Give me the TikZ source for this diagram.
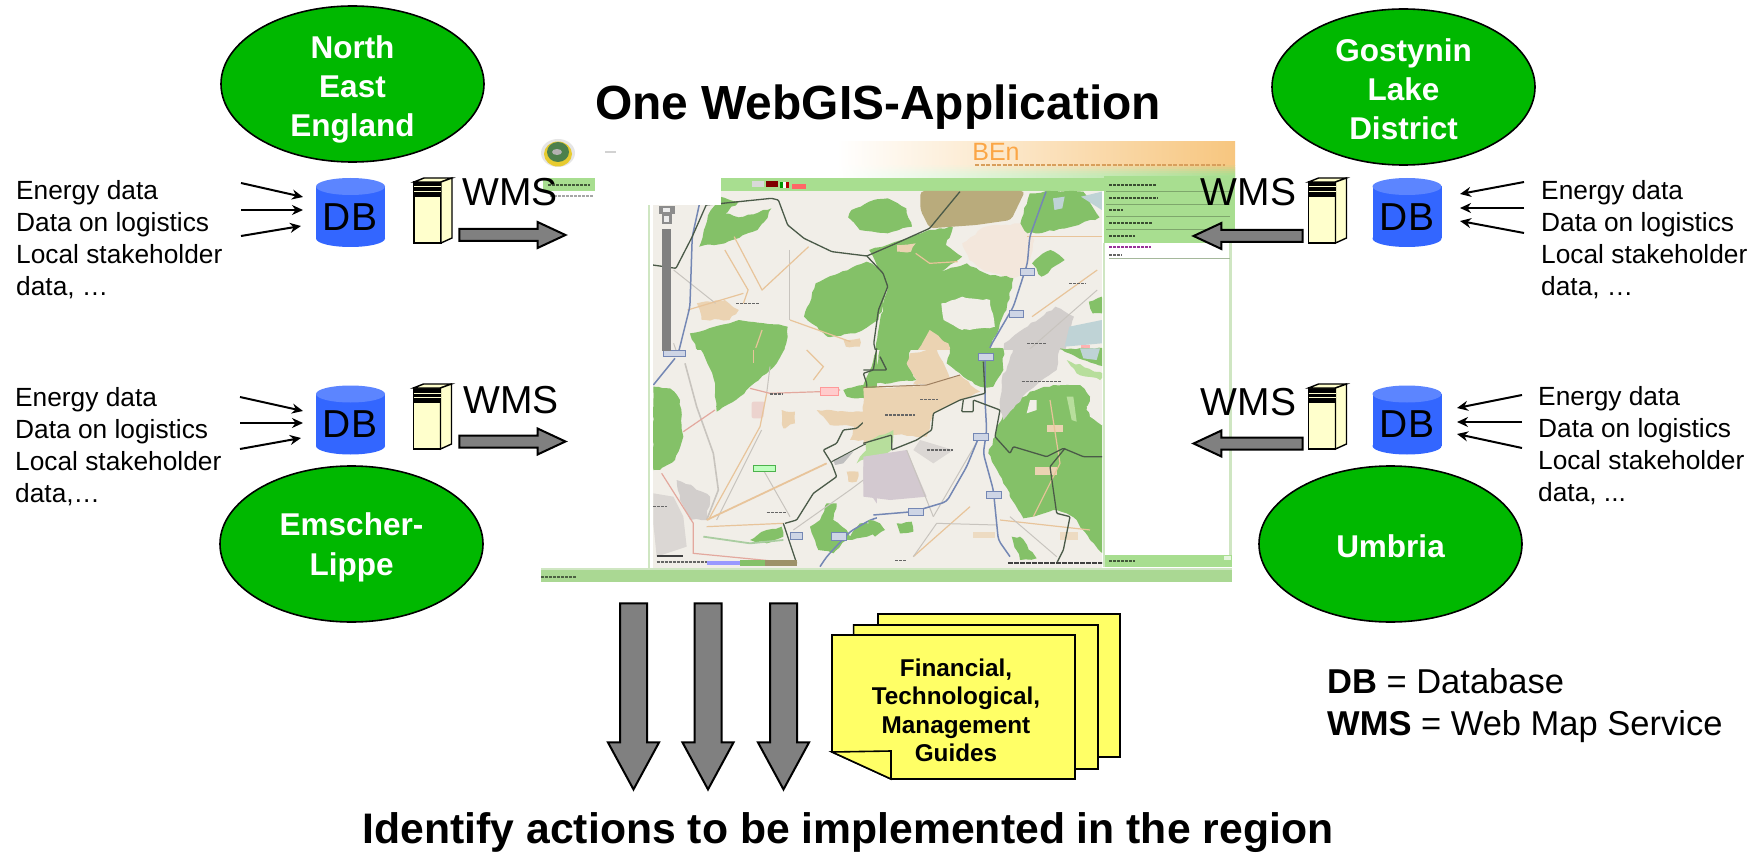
\documentclass[tikz,border=0pt]{standalone}
\usepackage{fontspec}
\setmainfont{Liberation Sans}
\usetikzlibrary{shapes.geometric,shapes.arrows,arrows.meta,decorations.pathmorphing}
\definecolor{regiongreen}{HTML}{00B800}
\definecolor{dbblue}{HTML}{3366FF}
\definecolor{dbtop}{HTML}{5C85FF}
\definecolor{srv}{HTML}{FFFFCC}
\definecolor{arrowgray}{HTML}{808080}
\definecolor{noteyellow}{HTML}{FFFF66}
\definecolor{barg}{HTML}{A8DE90}
\definecolor{barg2}{HTML}{AAD893}
\definecolor{edgeg}{HTML}{CFE6C2}
\definecolor{hdrorange}{HTML}{F7C67F}
\definecolor{mapbase}{HTML}{F1EEE8}
\definecolor{forest}{HTML}{84C168}
\definecolor{lightforest}{HTML}{B7DE9C}
\definecolor{tan}{HTML}{EBD3B2}
\definecolor{olive}{HTML}{B9AB7C}
\definecolor{pale}{HTML}{F3E7DC}
\definecolor{city}{HTML}{D2CECC}
\definecolor{plant}{HTML}{D3C9D0}
\definecolor{border}{HTML}{4A5A48}
\definecolor{roadb}{HTML}{7487B4}
\definecolor{roado}{HTML}{E8C49A}
\definecolor{roadr}{HTML}{E3A89E}
\definecolor{mapthin}{HTML}{C8C4BE}
\definecolor{water}{HTML}{BFD3D6}
\definecolor{pinkish}{HTML}{ECD3CE}
\tikzset{
  region/.style={ellipse,draw=black,line width=1.6pt,fill=regiongreen,
    minimum width=263pt,minimum height=156pt,inner sep=0pt},
  regiontext/.style={text=white,inner sep=0pt,align=center,
    font=\fontsize{31.5}{38.8}\selectfont\bfseries},
  dblabel/.style={font=\fontsize{39}{39}\selectfont,inner sep=0pt},
  wms/.style={font=\fontsize{39}{39}\selectfont,inner sep=0pt},
  datatext/.style={align=left,inner sep=0pt,font=\fontsize{26.3}{32}\selectfont},
  thinarrow/.style={line width=2pt,-{Stealth[length=11pt,width=10pt]}},
  blockarrow/.style={single arrow,draw=black,fill=arrowgray,line width=2pt,inner sep=0pt,outer sep=0pt,
    minimum height=106pt,minimum width=24pt,single arrow head extend=7pt,
    single arrow tip angle=50,single arrow head indent=0pt},
  downarrow/.style={single arrow,rotate=-90,draw=black,fill=arrowgray,line width=2pt,inner sep=0pt,outer sep=0pt,
    minimum height=186pt,minimum width=49pt,single arrow head extend=12pt,
    single arrow tip angle=57,single arrow head indent=0pt},
  note/.style={draw=black,line width=1.6pt,fill=noteyellow},
  rough/.style={decorate,decoration={random steps,segment length=5pt,amplitude=1.1pt}},
  forestp/.style={fill=forest,rough},
  lforestp/.style={fill=lightforest,rough},
  tanp/.style={fill=tan,rough},
  cityp/.style={fill=city,rough},
  brd/.style={draw=border,line width=1.3pt,rounded corners=1pt},
  roadB/.style={draw=roadb,line width=1.5pt,rounded corners=4pt},
  roadO/.style={draw=roado,line width=1.2pt},
  roadR/.style={draw=roadr,line width=1.2pt},
  roadT/.style={draw=mapthin,line width=1pt},
  shield/.style={draw=roadb,fill=white!65!roadb,line width=.5pt},
  placename/.style={color=black!60!white,line width=1.6pt,dash pattern=on 3pt off 1pt},
  blurtxt/.style={line width=2.2pt,dash pattern=on 3pt off 1pt},
}
\newcommand{\serverat}[2]{%
  \begin{scope}[shift={(#1,#2)},line width=1.4pt,draw=black,fill=srv]
    \filldraw (0,0) rectangle (27,61);
    \filldraw (0,0) -- (10,-4) -- (38,-4) -- (27,0) -- cycle;
    \filldraw (27,0) -- (38,-4) -- (38,56) -- (27,61) -- cycle;
    \fill[black] (0,1) rectangle (27,15);
    \foreach \yy in {5,9.5}{\draw[srv,line width=1pt] (0,\yy) -- (27,\yy);}
  \end{scope}}
\newcommand{\dbat}[2]{%
  \begin{scope}[shift={(#1,#2)}]
    \fill[dbblue] (-34.5,-26) rectangle (34.5,26);
    \fill[dbblue] (0,26) ellipse (34.5pt and 8.5pt);
    \fill[dbtop] (0,-26) ellipse (34.5pt and 8.5pt);
  \end{scope}}
\begin{document}
\begin{tikzpicture}[x=1pt,y=-1pt]
\pgfmathsetseed{42}
\useasboundingbox (0,0) rectangle (1762,853);
\fill[white] (0,0) rectangle (1762,853);

%% ---------- screenshot of the web application ----------
\shade[left color=white,right color=hdrorange] (837,142) rectangle (1235,166);
\foreach \i/\p in {0/15,1/35,2/55,3/75,4/90,5/100}{
  \shade[left color=white,right color=barg!\p!hdrorange] (837,{166+2*\i}) rectangle (1235,{168.3+2*\i});
}
\node[text=hdrorange!55!orange,inner sep=0pt,font=\fontsize{25}{25}\selectfont] (ben) at (996,151.5) {BEn};
\draw[line width=2.4pt,dash pattern=on 4pt off 1.5pt,color=brown!55!hdrorange] (975,165) -- (1225,165);
% logo
\fill[black!10] (558,153) ellipse (17pt and 14pt);
\fill[yellow!60!brown] (558,154) ellipse (14pt and 12.5pt);
\fill[gray!75!green!80!black] (558,152) ellipse (11pt and 10pt);
\fill[white!70!black] (557,152) ellipse (5pt and 3pt);
\draw[gray!35,line width=1.5pt] (605,152) -- (616,152);
% bars
\fill[barg] (543,178) rectangle (1104,191);
\fill[barg] (1104,176) rectangle (1235,243);
\draw[blurtxt,color=black!60!barg] (548,185) -- (590,185);
\draw[blurtxt,color=black!35!white] (550,196) -- (594,196);
\fill[white!70!gray] (752,181) rectangle (764,187);
\fill[red!50!black] (766,181) rectangle (778,187);
\fill[green!60!black] (780,182) rectangle (783,188);
\fill[white] (783,182) rectangle (786,188);
\fill[red!70!black] (786,182) rectangle (789,188);
\fill[red!60!white] (792,184) rectangle (806,189);
% right panel
\fill[white] (1104,243) rectangle (1232,555);
\fill[barg] (1104,555) rectangle (1232,567);
\fill[edgeg] (1228.5,243) rectangle (1231.5,555);
\fill[edgeg] (1102.5,243) rectangle (1104.5,567);
\foreach \yy in {191.5,204,216,229}{\draw[black!25!barg,line width=.7pt] (1106,\yy) -- (1230,\yy);}
\draw[blurtxt,color=black!65!barg] (1109,185) -- (1156,185);
\draw[blurtxt,color=black!65!barg] (1109,198) -- (1158,198);
\draw[blurtxt,color=black!65!barg] (1109,210) -- (1123,210);
\draw[blurtxt,color=black!65!barg] (1109,223) -- (1153,223);
\draw[blurtxt,color=black!65!barg] (1109,236) -- (1135,236);
\draw[blurtxt,color=violet!80!white] (1109,247) -- (1151,247);
\draw[blurtxt,color=black!60!white] (1109,255) -- (1122,255);
\draw[edgeg!80!black,line width=1pt] (1109,259) -- (1230,259);
\draw[blurtxt,color=black!60!barg] (1109,561) -- (1135,561);
\fill[white!70!barg] (1224,556) rectangle (1231,560);
% frame
\fill[edgeg] (647.5,205) rectangle (649.5,570);
\fill[barg2] (541,570) rectangle (1232,582);
\fill[edgeg] (541,567.5) rectangle (1232,569.5);
\draw[blurtxt,color=black!55!barg2] (541,577) -- (576,577);

% ---- map ----
\begin{scope}
\clip (653,191) rectangle (1102,567);
\fill[mapbase] (653,191) rectangle (1102,567);
% upper part, traced from the first crop
\begin{scope}[shift={(520,130)},x=0.4655pt,y=-0.33333pt]
\fill[olive,rounded corners=4pt] (860,183) -- (1085,183) -- (1055,270) -- (980,285) -- (880,295) -- (860,240) -- cycle;
\fill[pale,rough] (950,340) -- (1000,290) -- (1075,280) -- (1105,330) -- (1090,420) -- (1060,445) -- (1000,425) -- (965,390) -- cycle;
\fill[forestp] (430,200) -- (470,215) -- (440,250) -- (470,262) -- (540,235) -- (525,275) -- (510,300) -- (440,340) -- (385,350) -- (395,300) -- (410,240) -- cycle;
\fill[forestp] (712,240) -- (750,215) -- (790,205) -- (830,235) -- (842,290) -- (790,310) -- (730,300) -- (705,262) -- cycle;
\fill[forestp] (750,360) -- (880,300) -- (930,292) -- (915,345) -- (950,380) -- (905,425) -- (960,400) -- (1000,430) -- (1060,445) -- (1045,540) -- (1020,620) -- (1000,680) -- (760,700) -- (770,600) -- (790,470) -- (770,420) -- cycle;
\fill[forestp] (635,460) -- (745,395) -- (775,420) -- (790,470) -- (770,570) -- (720,610) -- (660,620) -- (610,560) -- cycle;
\fill[forestp] (1095,190) -- (1130,183) -- (1210,185) -- (1245,262) -- (1200,285) -- (1130,305) -- (1090,310) -- (1075,280) -- cycle;
\fill[forestp] (1115,380) -- (1140,360) -- (1170,390) -- (1120,440) -- (1100,400) -- cycle;
\fill[forestp] (365,610) -- (450,580) -- (470,570) -- (575,590) -- (572,640) -- (566,680) -- (395,680) -- (378,655) -- cycle;
\fill[forestp] (1222,515) -- (1250,500) -- (1250,550) -- (1230,550) -- cycle;
\fill[mapbase,rough] (905,520) -- (950,500) -- (1010,510) -- (1020,590) -- (950,600) -- (910,570) -- cycle;
\fill[water] (1145,205) -- (1170,200) -- (1165,235) -- (1148,240) -- cycle;
\fill[water] (1205,200) -- (1250,185) -- (1250,240) -- cycle;
\fill[tanp] (380,520) -- (440,510) -- (470,540) -- (450,570) -- (390,570) -- cycle;
\fill[tanp] (850,670) -- (880,600) -- (920,640) -- (930,680) -- (840,690) -- cycle;
\fill[tanp] (810,345) -- (850,340) -- (840,365) -- (810,365) -- cycle;
\fill[tanp] (695,630) -- (730,625) -- (730,650) -- (700,650) -- cycle;
\fill[cityp] (1040,640) -- (1090,590) -- (1150,530) -- (1190,560) -- (1170,680) -- (1040,680) -- cycle;
\fill[water] (1180,590) -- (1250,570) -- (1250,640) -- (1170,650) -- cycle;
\fill[red!30!white] (1205,645) rectangle (1225,660);
\draw[roadT] (340,680) -- (330,640);
\draw[roadT] (580,360) -- (580,570);
\draw[roadT] (1060,700) -- (1240,480);
\draw[roadT] (330,420) -- (420,520);
\draw[roadO] (460,320) -- (520,480) -- (620,350);
\draw[roadO] (440,360) -- (490,480) -- (480,520);
\draw[roadO] (480,490) -- (360,540);
\draw[roadO] (520,600) -- (500,680);
\draw[roadO] (580,570) -- (710,635);
\draw[roadO] (850,370) -- (880,400) -- (940,395);
\draw[roadO] (1090,320) -- (1250,320);
\draw[roadO] (1240,420) -- (1100,560);
\draw[roadB] (1130,185) -- (1095,320) -- (1090,400) -- (1060,530) -- (1010,650) -- (1000,700);
\draw[roadB] (385,225) -- (370,320) -- (365,530) -- (340,670) -- (320,700);
\draw[brd] (400,225) -- (540,205) -- (555,210) -- (575,285) -- (610,325) -- (670,365) -- (745,378) -- (800,345) -- (880,295) -- (945,185);
\draw[brd] (400,225) -- (370,320) -- (335,415) -- (285,405);
\draw[brd] (745,378) -- (780,430) -- (790,470) -- (770,540) -- (760,640) -- (765,670);
\foreach \a/\b in {1075/415,1050/540,320/660}{\draw[shield] (\a,\b) rectangle ++(30,22);}
\foreach \a/\b/\c in {465/515/520,1090/1130/640,1180/1215/460}{\draw[placename] (\a,\c) -- (\b,\c);}
\end{scope}
% lower left, from its own crop
\begin{scope}[shift={(650,350)},x=0.33333pt,y=-0.33333pt]
\fill[mapbase] (0,0) rectangle (720,660);
\fill[forestp] (10,110) -- (60,115) -- (90,150) -- (100,260) -- (75,330) -- (30,360) -- (10,360) -- cycle;
\fill[forestp] (150,-5) -- (405,-5) -- (380,40) -- (300,110) -- (270,140) -- (200,185) -- (195,100) -- (170,35) -- cycle;
\fill[forestp] (580,120) -- (640,105) -- (660,60) -- (680,-5) -- (725,-5) -- (725,90) -- (670,130) -- (650,145) -- (590,140) -- cycle;
\fill[forestp] (480,530) -- (510,510) -- (530,460) -- (560,460) -- (550,510) -- (590,540) -- (600,560) -- (630,520) -- (700,515) -- (680,550) -- (620,565) -- (590,570) -- (550,610) -- (505,600) -- (490,560) -- cycle;
\fill[forestp] (300,570) -- (350,540) -- (395,530) -- (400,560) -- (350,580) -- cycle;
\fill[lforestp] (630,320) -- (680,280) -- (725,260) -- (725,310) -- (660,320) -- (620,340) -- cycle;
\fill[tanp] (500,180) -- (640,185) -- (660,195) -- (610,230) -- (540,225) -- cycle;
\fill[tanp] (640,270) -- (600,270) -- (620,210) -- (680,180) -- (670,120) -- (725,120) -- (725,255) -- cycle;
\fill[tanp] (395,180) -- (435,185) -- (435,220) -- (400,235) -- cycle;
\fill[pinkish,rounded corners=2pt] (305,155) -- (345,155) -- (340,205) -- (305,205) -- cycle;
\fill[tanp] (590,365) -- (625,365) -- (620,395) -- (595,395) -- cycle;
\fill[plant] (640,350) -- (725,320) -- (725,480) -- (680,460) -- (640,400) -- cycle;
\fill[city!70!mapbase] (10,430) -- (70,440) -- (100,500) -- (110,590) -- (20,620) -- (10,520) -- cycle;
\fill[cityp] (80,390) -- (130,410) -- (180,440) -- (170,510) -- (120,510) -- (90,450) -- cycle;
\fill[gray!50!white] (550,330) -- (610,305) -- (580,340) -- (555,345) -- cycle;
\draw[mapthin,line width=1.6pt] (105,40) -- (140,170) -- (190,310) -- (205,420) -- (170,510);
\draw[roadT] (340,360) -- (420,500);
\draw[roadT] (430,540) -- (600,420) -- (640,390);
\draw[roadT] (200,510) -- (335,240);
\draw[roadT] (360,50) -- (350,130);
\draw[mapthin!85!green,line width=1.8pt] (160,560) -- (300,580) -- (400,570);
\draw[roadO,line width=1.8pt] (170,510) -- (530,340);
\draw[roadO] (175,510) -- (330,230) -- (350,130);
\draw[roadO] (170,530) -- (400,520);
\draw[roadO] (470,0) -- (520,50) -- (490,90);
\draw[roadO] (310,0) -- (310,40);
\draw[roadR] (100,245) -- (195,180);
\draw[roadR] (35,370) -- (130,520) -- (130,610) -- (440,640);
\draw[roadR] (300,115) -- (360,130) -- (510,125) -- (570,120);
\draw[roadB] (75,25) -- (10,105);
\draw[roadB] (510,650) -- (530,620) -- (600,545) -- (660,510) -- (725,490);
\draw[brd] (400,520) -- (440,640);
\draw[brd] (405,520) -- (440,510) -- (490,430) -- (560,380) -- (545,340) -- (520,300) -- (560,280) -- (580,240) -- (620,235) -- (665,195) -- (650,145) -- (650,100) -- (640,70) -- (670,60) -- (680,-5);
\draw[border,line width=1pt] (545,335) -- (640,285) -- (725,250);
\draw[shield] (40,0) rectangle (105,18);
\draw[shield] (420,548) rectangle (458,568);
\draw[shield] (545,548) rectangle (590,570);
\draw[green!40!gray,fill=white!75!green] (310,345) rectangle (375,365);
\draw[red!40!white,fill=white!80!red] (510,112) rectangle (565,135);
\draw[placename] (350,488) -- (410,488);
\draw[placename] (360,132) -- (400,132);
\draw[placename] (10,470) -- (50,470);
\draw[black!75!white,line width=1.6pt] (20,618) -- (100,618);
\draw[placename] (20,636) -- (170,636);
\fill[blue!40!white] (170,632) rectangle (270,645);
\fill[forest] (270,630) rectangle (345,648);
\fill[olive!85!black] (345,630) rectangle (440,648);
\end{scope}
% lower right, from its own crop
\begin{scope}[shift={(870,350)},x=0.33333pt,y=-0.33333pt]
\fill[mapbase] (20,0) rectangle (720,660);
\fill[forestp] (30,-5) -- (125,-5) -- (110,40) -- (140,90) -- (60,100) -- (20,100) -- (20,60) -- cycle;
\fill[forestp] (240,-5) -- (400,-5) -- (400,60) -- (370,110) -- (330,110) -- (270,70) -- (230,40) -- cycle;
\fill[tanp] (120,10) -- (200,-5) -- (230,60) -- (250,110) -- (170,105) -- (130,100) -- (140,90) -- (110,40) -- cycle;
\fill[tanp] (-20,115) -- (170,105) -- (270,75) -- (330,125) -- (250,160) -- (190,190) -- (170,260) -- (70,255) -- (-20,280) -- cycle;
\fill[lforestp] (-10,275) -- (70,240) -- (65,300) -- (30,320) -- (-10,320) -- cycle;
\fill[forestp] (380,240) -- (400,190) -- (480,125) -- (550,105) -- (630,105) -- (660,140) -- (650,180) -- (705,230) -- (705,615) -- (660,570) -- (620,510) -- (590,490) -- (550,480) -- (460,505) -- (400,400) -- (355,310) -- (375,260) -- cycle;
\fill[forestp] (-5,510) -- (30,520) -- (45,540) -- (15,560) -- (-5,540) -- cycle;
\fill[forestp] (80,520) -- (125,515) -- (130,545) -- (90,550) -- cycle;
\fill[forestp] (425,560) -- (450,560) -- (500,625) -- (450,630) -- cycle;
\fill[forestp] (570,-5) -- (705,-5) -- (705,50) -- (640,30) -- cycle;
\fill[water] (630,-5) -- (690,-5) -- (680,30) -- (640,25) -- cycle;
\fill[lforestp] (590,30) -- (705,75) -- (690,90) -- (620,70) -- cycle;
\fill[mapbase,rough] (650,170) -- (705,150) -- (705,235) -- (660,200) -- cycle;
\fill[lightforest] (590,140) -- (610,140) -- (620,215) -- (605,210) -- cycle;
\fill[mapbase] (480,150) -- (500,150) -- (500,180) -- (470,190) -- cycle;
\fill[cityp] (390,170) -- (395,90) -- (430,-5) -- (570,-5) -- (560,60) -- (480,120) -- (400,210) -- cycle;
\fill[plant] (-20,320) -- (110,300) -- (170,440) -- (60,450) -- (-20,440) -- cycle;
\fill[city!70!mapbase] (150,270) -- (250,300) -- (190,340) -- (130,300) -- cycle;
\fill[tan] (530,225) rectangle (580,245);
\fill[tan] (495,350) rectangle (560,375);
\fill[tan!70!mapbase] (310,545) rectangle (375,565);
\fill[tan!70!mapbase] (570,545) rectangle (625,570);
\draw[roadO] (540,150) -- (570,340) -- (490,500);
\draw[roadO] (390,510) -- (660,540);
\draw[roadO] (300,470) -- (130,620);
\draw[roadT] (130,620) -- (200,520) -- (380,525);
\draw[roadT] (110,300) -- (190,500);
\draw[roadT] (330,260) -- (190,500);
\draw[roadT] (420,500) -- (560,620);
\draw[roadB] (345,20) -- (345,150) -- (350,240) -- (340,310) -- (370,420) -- (385,570) -- (420,620);
\draw[roadB] (325,265) -- (290,350) -- (230,455) -- (130,485) -- (10,495);
\draw[brd] (340,35) -- (345,130) -- (270,150) -- (190,190) -- (185,240) -- (140,270) -- (65,300) -- (65,255) -- (-20,280);
\draw[brown!50!gray,line width=1pt] (-20,112) -- (170,105) -- (270,75);
\draw[brd] (30,20) -- (50,60) -- (-20,60);
\draw[brd] (280,150) -- (275,185) -- (310,185) -- (310,150) -- (350,165) -- (390,180) -- (375,260) -- (420,310) -- (430,290) -- (530,320) -- (580,295) -- (640,320) -- (705,320);
\draw[brd] (585,295) -- (540,350) -- (560,490) -- (600,500) -- (580,600) -- (560,640);
\foreach \a/\b in {325/10,310/250,350/425,115/475}{\draw[shield] (\a,\b) rectangle ++(45,20);}
\draw[black!75!white,line width=2pt,dash pattern=on 5pt off 1pt] (415,640) -- (700,640);
\foreach \a/\b/\c in {455/575/95,170/250/300,150/205/148,45/135/195,75/110/632}{\draw[placename] (\a,\c) -- (\b,\c);}
\end{scope}
\end{scope}
% zoom slider
\begin{scope}[shift={(520,130)},x=0.4655pt,y=-0.33333pt]
\fill[arrowgray] (305,298) rectangle (325,662);
\fill[black!45!white] (298,228) rectangle (332,252);
\fill[white!85!gray] (307,233) rectangle (323,247);
\fill[black!45!white] (304,252) rectangle (326,282);
\fill[white!85!gray] (310,258) rectangle (320,276);
\end{scope}
% white patch
\fill[white] (595,178) rectangle (721,205);

%% ---------- regions ----------
\node[region] (ne) at (352.5,84) {};
\node[region] (gl) at (1403.5,87) {};
\node[region] (el) at (351.5,544) {};
\node[region] (um) at (1390.5,544) {};
\node[regiontext] (net) at (352.5,89.5) {North\\East\\England};
\node[regiontext] (glt) at (1403.5,89) {Gostynin\\Lake\\District};
\node[regiontext,font=\fontsize{31.5}{40}\selectfont\bfseries] (elt) at (351.5,547) {Emscher-\\Lippe};
\node[regiontext] (umt) at (1390.5,546) {Umbria};

%% ---------- titles ----------
\node[inner sep=0pt,font=\fontsize{47.9}{50}\selectfont\bfseries] (title) at (878,107) {One WebGIS-Application};
\node[inner sep=0pt,font=\fontsize{42.7}{46}\selectfont\bfseries] (actions) at (848,833) {Identify actions to be implemented in the region};

%% ---------- data texts ----------
\node[datatext,anchor=west] (t1) at (16,240) {Energy data\\Data on logistics\\Local stakeholder\\data, …};
\node[datatext,anchor=west] (t2) at (15,447) {Energy data\\Data on logistics\\Local stakeholder\\data,…};
\node[datatext,anchor=west] (t3) at (1541,240) {Energy data\\Data on logistics\\Local stakeholder\\data, …};
\node[datatext,anchor=west] (t4) at (1538,445.5) {Energy data\\Data on logistics\\Local stakeholder\\data, ...};

%% ---------- databases ----------
\dbat{350.5}{212.5}
\dbat{350.5}{420}
\dbat{1407}{212.5}
\dbat{1407}{420}
\node[dblabel] (dl1) at (350,217) {DB};
\node[dblabel] (dl2) at (350,424) {DB};
\node[dblabel] (dl3) at (1407,217) {DB};
\node[dblabel] (dl4) at (1407,424) {DB};

%% ---------- servers ----------
\serverat{414}{182}
\serverat{413.5}{388}
\serverat{1308.5}{182}
\serverat{1308.5}{388}

%% ---------- WMS ----------
\node[wms,anchor=west] (w1) at (462,192.5) {WMS};
\node[wms,anchor=west] (w2) at (463,400) {WMS};
\node[wms] (w3) at (1248.5,192) {WMS};
\node[wms] (w4) at (1248.5,402) {WMS};

%% ---------- block arrows ----------
\node[blockarrow] (b1) at (506,235) {\rule{0pt}{10pt}};
\node[blockarrow] (b2) at (506,441.5) {\rule{0pt}{10pt}};
\node[blockarrow,rotate=180,minimum height=109pt] (b3) at (1254.5,236) {\rule{0pt}{10pt}};
\node[blockarrow,rotate=180,minimum height=109pt] (b4) at (1254.5,443.5) {\rule{0pt}{10pt}};

%% ---------- thin arrows ----------
\coordinate (a1s) at (241,183); \coordinate (a1e) at (303,197);
\coordinate (a2s) at (241,210); \coordinate (a2e) at (303,210);
\coordinate (a3s) at (241,236); \coordinate (a3e) at (301,226);
\coordinate (a4s) at (240,397); \coordinate (a4e) at (303,411);
\coordinate (a5s) at (240,423); \coordinate (a5e) at (303,423);
\coordinate (a6s) at (240,449); \coordinate (a6e) at (301,438);
\coordinate (a7s) at (1524,182); \coordinate (a7e) at (1460,194);
\coordinate (a8s) at (1524,208); \coordinate (a8e) at (1460,208);
\coordinate (a9s) at (1524,233); \coordinate (a9e) at (1460,221);
\coordinate (a10s) at (1522,395); \coordinate (a10e) at (1457,408);
\coordinate (a11s) at (1522,422); \coordinate (a11e) at (1457,422);
\coordinate (a12s) at (1522,448); \coordinate (a12e) at (1457,434);
\foreach \k in {1,...,12}{\draw[thinarrow] (a\k s) -- (a\k e);}

%% ---------- guides ----------
\draw[note] (878,614) -- (1120,614) -- (1120,757) -- (937,757) -- (878,730) -- cycle;
\draw[note] (853.6,625) -- (1098,625) -- (1098,769) -- (912,769) -- (853.6,742) -- cycle;
\draw[note] (832,635) -- (1075,635) -- (1075,779) -- (891,779) -- (832,752) -- cycle;
\draw[note] (832,752) -- (891,751) -- (891,779) -- cycle;
\node[inner sep=0pt,align=center,font=\fontsize{24.3}{28.4}\selectfont\bfseries] (guides) at (956,710.5) {Financial,\\Technological,\\Management\\Guides};

\node[downarrow] (d1) at (633.5,684) {\rule{0pt}{25pt}};
\node[downarrow] (d2) at (708,684) {\rule{0pt}{25pt}};
\node[downarrow] (d3) at (783.5,684) {\rule{0pt}{25pt}};

%% ---------- legend ----------
\node[inner sep=0pt,anchor=west,align=left,font=\fontsize{34.5}{42}\selectfont] (legend) at (1327,705.5) {\textbf{DB} = Database\\\textbf{WMS} = Web Map Service};
\end{tikzpicture}
\end{document}
